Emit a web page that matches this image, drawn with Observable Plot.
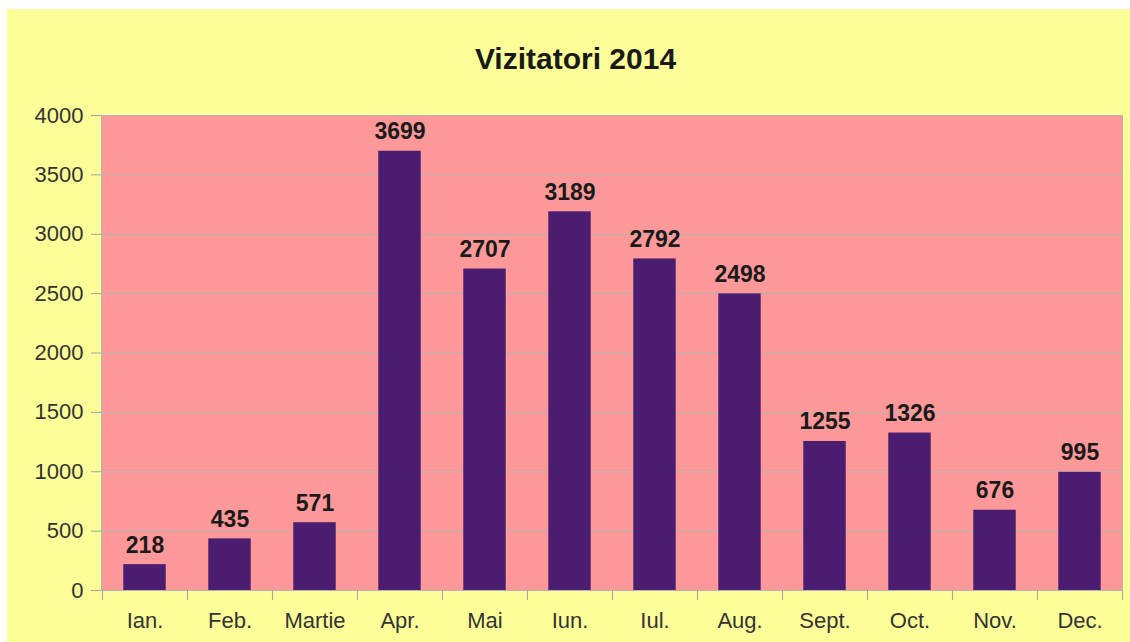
<!DOCTYPE html>
<html><head><meta charset="utf-8">
<script src="https://cdn.jsdelivr.net/npm/d3@7"></script>
<script src="https://cdn.jsdelivr.net/npm/@observablehq/plot@0.6"></script>
<style>
html,body{margin:0;padding:0;background:#fff;}
#wrap{position:absolute;left:7px;top:9px;width:1123px;height:633px;background:#ffff99;overflow:hidden;font-family:"Liberation Sans",Arial,sans-serif;}
#title{position:absolute;top:35px;left:14px;right:0;text-align:center;font-weight:bold;font-size:30px;line-height:30px;color:#1a1a1a;}
#chart{position:absolute;left:0;top:0;}
</style></head><body>
<div id="wrap"><div id="title">Vizitatori 2014</div><div id="chart"></div></div>
<script>
const months = ["Ian.", "Feb.", "Martie", "Apr.", "Mai", "Iun.", "Iul.", "Aug.", "Sept.", "Oct.", "Nov.", "Dec."];
const visitors = [218, 435, 571, 3699, 2707, 3189, 2792, 2498, 1255, 1326, 676, 995];
const yTicks = [0, 500, 1000, 1500, 2000, 2500, 3000, 3500, 4000];

const data = months.map((m, i) => ({month: m, value: visitors[i]}));

const W = 1123, H = 633, mL = 94, mR = 8, mT = 106, mB = 52;
const step = (W - mL - mR) / months.length;
const inset = step / 4;

const chart = Plot.plot({
  width: W, height: H,
  marginLeft: mL, marginRight: mR, marginTop: mT, marginBottom: mB,
  style: {background: "transparent", fontFamily: "'Liberation Sans', Arial, sans-serif", fontSize: "22px"},
  x: {type: "band", domain: months, padding: 0, label: null},
  y: {domain: [0, 4000], label: null},
  marks: [
    Plot.frame({fill: "#ff9999", stroke: null}),
    Plot.gridY(yTicks, {stroke: "#b3b3b3", strokeOpacity: 1}),
    Plot.barY(data, {x: "month", y: "value", fill: "#4b1d70", insetLeft: inset, insetRight: inset}),
    Plot.text(data, {x: "month", y: "value", text: d => String(d.value), lineAnchor: "bottom", dy: -12,
      fontWeight: "bold", fontSize: 23, fill: "#1a1a1a"}),
    Plot.ruleY([0], {stroke: "#b3b3b3"}),
    Plot.frame({stroke: "#b3b3b3", fill: null}),
    Plot.axisY({ticks: yTicks, tickSize: 10, tickPadding: 8, fontSize: 22, stroke: "#a0a0a0", fill: "#333",
      tickFormat: d => String(d), label: null}),
    Plot.axisX({ticks: months, tickSize: 10, tickFormat: () => "", dx: -step / 2, stroke: "#a0a0a0", label: null}),
    Plot.axisX({ticks: [months[months.length - 1]], tickSize: 10, tickFormat: () => "", dx: step / 2, stroke: "#a0a0a0", label: null}),
    Plot.axisX({tickSize: 0, tickPadding: 22, fontSize: 22, fill: "#333", label: null})
  ]
});
document.getElementById("chart").appendChild(chart);
</script>
</body></html>
